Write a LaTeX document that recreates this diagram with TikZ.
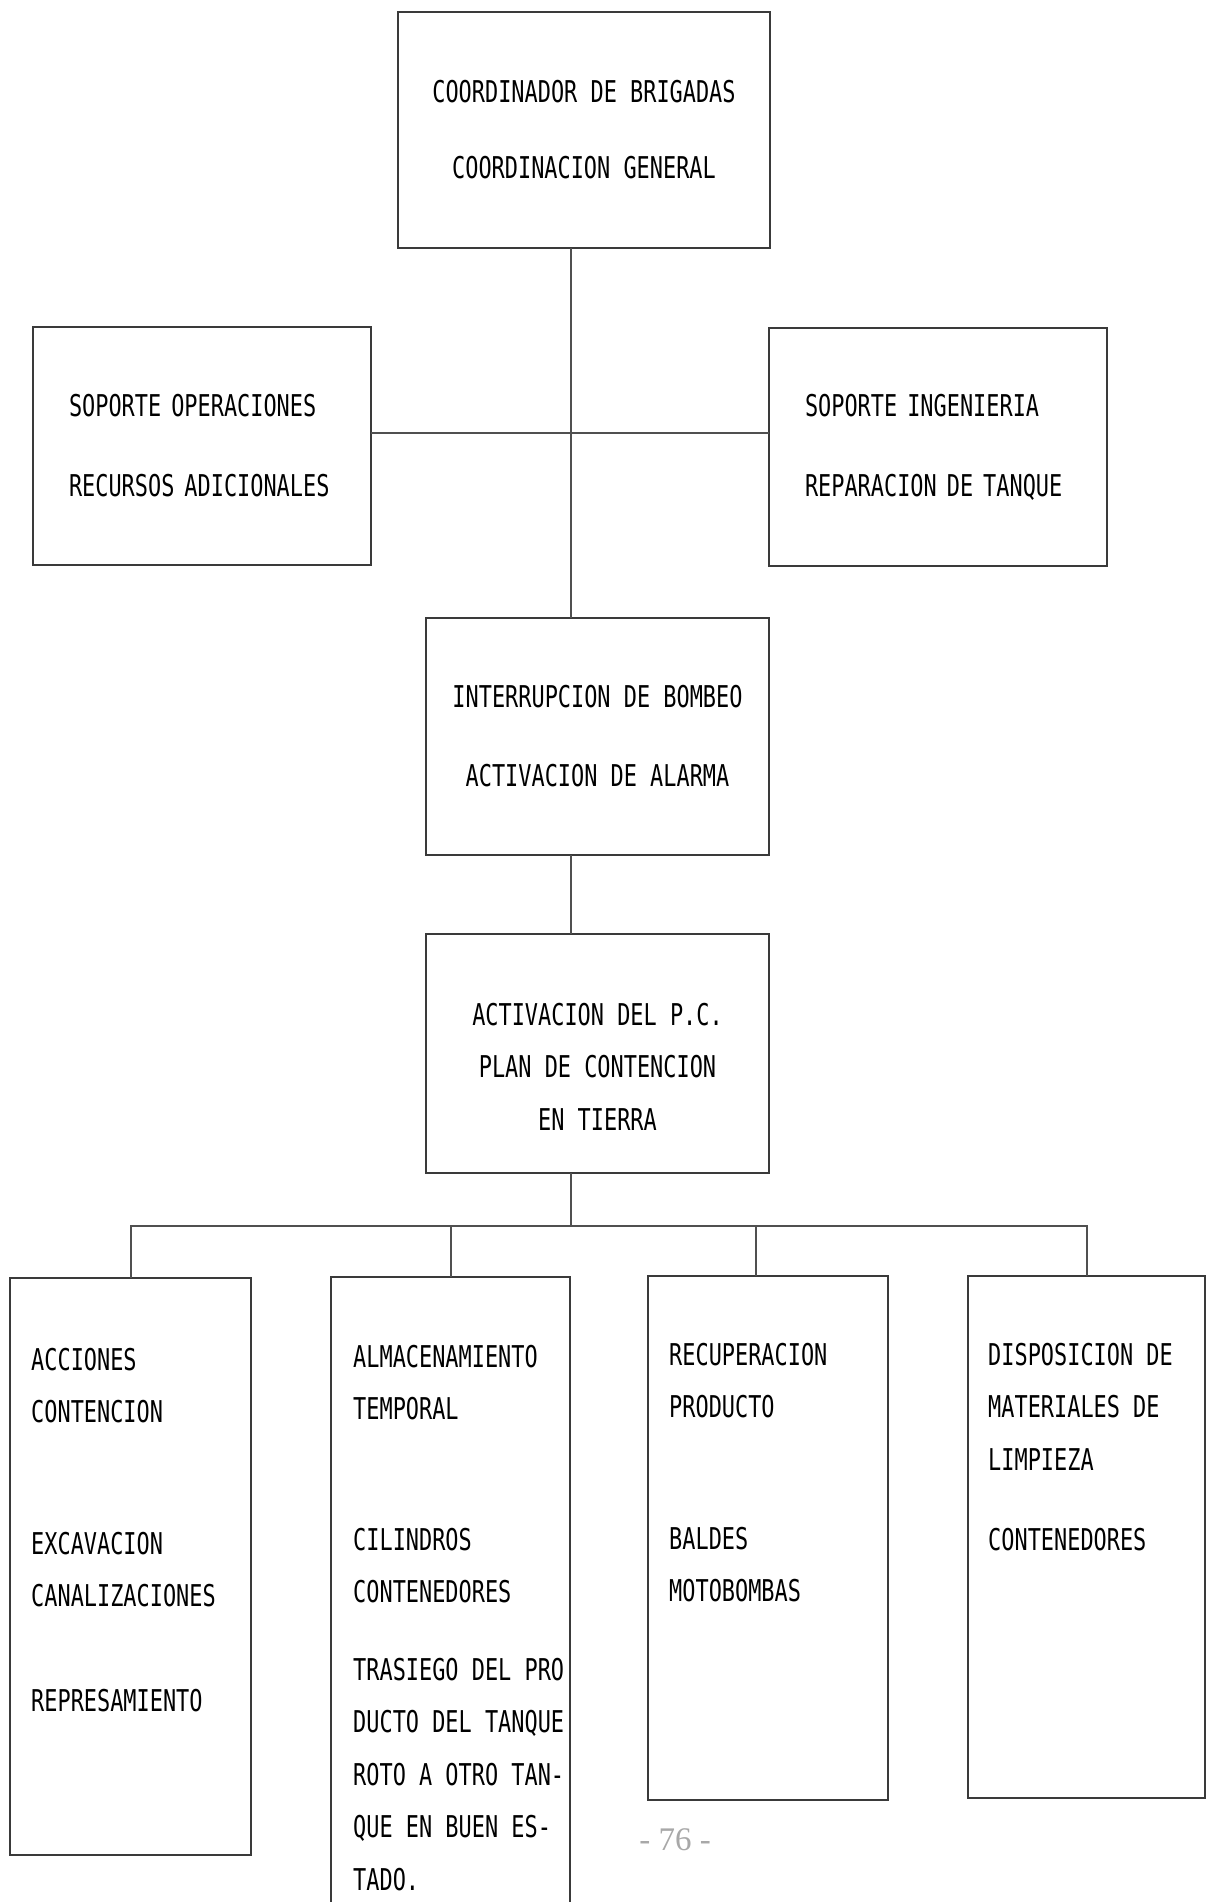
\documentclass[tikz,border=0pt]{standalone}
\usepackage{fontspec}
\newfontfamily\plotfont[FakeStretch=0.73]{DejaVu Sans Mono}
\newfontfamily\foliofont{Liberation Serif}
\usepackage{xcolor}
\definecolor{cLine}{HTML}{3A3A3A}
\definecolor{cLink}{HTML}{505050}
\definecolor{cFolio}{HTML}{A8A8A8}
\usepackage{tikz}
\tikzset{
  box-main/.style={draw=cLine,line width=2.6pt,anchor=north west,outer sep=0pt,
    inner sep=0pt,align=center,font=\plotfont\fontsize{30}{#1}\selectfont},
  box-side/.style={draw=cLine,line width=2.6pt,anchor=north west,outer sep=0pt,
    inner xsep=36pt,inner ysep=0pt,text width=266pt,minimum height=238pt,
    align=left,font=\plotfont\fontsize{30}{80}\selectfont},
  box-leaf/.style={draw=cLine,line width=2.6pt,anchor=north west,outer sep=0pt,
    inner sep=0pt},
  leaf-text/.style={anchor=north west,inner sep=0pt,align=left,
    font=\plotfont\fontsize{30}{52.5}\selectfont},
  link/.style={draw=cLink,line width=2pt},
}

\begin{document}
\begin{tikzpicture}[x=1pt,y=-1pt]
  \useasboundingbox (0,0) rectangle (1206,1902);
  \clip (0,0) rectangle (1206,1902);
  \coordinate (spine) at (571,0);
  \coordinate (side-bar) at (571,433);
  \coordinate (bus) at (571,1226);

  % mando y apoyo
  \node[box-main=76,minimum width=372pt,minimum height=236pt] (brig) at (398,12)
    {COORDINADOR DE BRIGADAS\\COORDINACION GENERAL};
  \node[box-side] (sopop) at (33,327) {SOPORTE OPERACIONES\\RECURSOS ADICIONALES};
  \node[box-side] (soping) at (769,328) {SOPORTE INGENIERIA\\REPARACION DE TANQUE};
  \node[box-main=79,minimum width=343pt,minimum height=237pt] (bombeo) at (426,618)
    {INTERRUPCION DE BOMBEO\\ACTIVACION DE ALARMA};
  \node[box-main=52.5,minimum width=343pt,minimum height=239pt] (pcont) at (426,934) {};
  \node[box-main=52.5,draw=none,anchor=center] (pcont-t) at ([yshift=-13pt]pcont.center)
    {ACTIVACION DEL P.C.\\PLAN DE CONTENCION\\EN TIERRA};

  % acciones en tierra
  \node[box-leaf,minimum width=241pt,minimum height=577pt] (acc) at (10,1278) {};
  \node[box-leaf,minimum width=239pt,minimum height=660pt] (alm) at (331,1277) {};
  \node[box-leaf,minimum width=240pt,minimum height=524pt] (rec) at (648,1276) {};
  \node[box-leaf,minimum width=237pt,minimum height=522pt] (dis) at (968,1276) {};

  \node[leaf-text] (acc-t) at ([xshift=21pt,yshift=-70pt]acc.north west)
    {ACCIONES\\CONTENCION\\[79pt]EXCAVACION\\CANALIZACIONES\\[52pt]REPRESAMIENTO};
  \node[leaf-text] (alm-t) at ([xshift=22pt,yshift=-68pt]alm.north west)
    {ALMACENAMIENTO\\TEMPORAL\\[78pt]CILINDROS\\CONTENEDORES\\[25pt]TRASIEGO DEL PRO\\
     DUCTO DEL TANQUE\\ROTO A OTRO TAN-\\QUE EN BUEN ES-\\TADO.};
  \node[leaf-text] (rec-t) at ([xshift=21pt,yshift=-67pt]rec.north west)
    {RECUPERACION\\PRODUCTO\\[79pt]BALDES\\MOTOBOMBAS};
  \node[leaf-text] (dis-t) at ([xshift=20pt,yshift=-67pt]dis.north west)
    {DISPOSICION DE\\MATERIALES DE\\LIMPIEZA\\[28pt]CONTENEDORES};

  \node[font=\foliofont\fontsize{33}{40}\selectfont,text=cFolio] (folio) at (675,1840) {- 76 -};

  \draw[link] (brig.south -| spine) -- (bombeo.north -| spine);
  \draw[link] (sopop.east |- side-bar) -- (soping.west |- side-bar);
  \draw[link] (bombeo.south -| spine) -- (pcont.north -| spine);
  \draw[link] (pcont.south -| spine) -- (bus);
  \draw[link] (acc.north) |- (bus) -| (dis.north);
  \draw[link] (alm.north) -- (alm.north |- bus);
  \draw[link] ([xshift=-12pt]rec.north) -- ([xshift=-12pt]rec.north |- bus);
\end{tikzpicture}
\end{document}
